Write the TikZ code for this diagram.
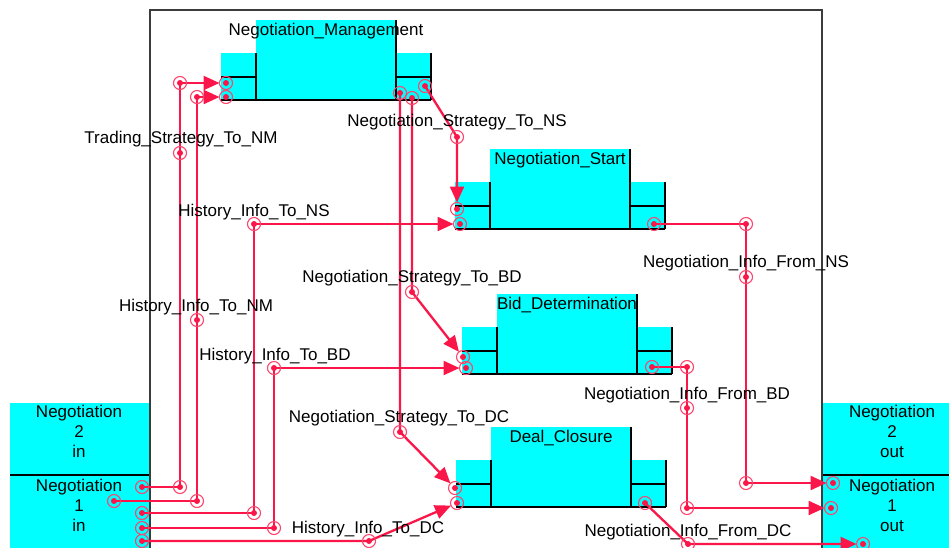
\documentclass[tikz,border=0pt]{standalone}
\usepackage{fontspec}
\setmainfont{Liberation Sans}
\usetikzlibrary{arrows.meta}
\definecolor{linkred}{RGB}{250,22,72}
\definecolor{compcyan}{RGB}{0,255,255}
\definecolor{framegray}{RGB}{60,60,60}
\pgfdeclarelayer{blocks}
\pgfdeclarelayer{wires}
\pgfsetlayers{blocks,wires,main}

% one component: name, x and y of the body's top-left corner, title
\newcommand\component[4]{%
  \node[body] (#1) at (#2+70,#3+40) {};
  \node[portup] (#1-li) at (#2-17.5,#3+45) {};
  \node[portlo] (#1-lo) at (#2-17.5,#3+68.5) {};
  \node[portup] (#1-ri) at (#2+157.5,#3+45) {};
  \node[portlo] (#1-ro) at (#2+157.5,#3+68.5) {};
  \draw[edge] (#1.north east) -- (#1.south east);
  \draw[edge] (#1-lo.south west) -- (#1-ro.south east);
  \draw[edge] (#1-li.north east) -- (#1-lo.south east);
  \draw[edge] (#1-lo.north west) -- (#1-lo.north east);
  \draw[edge] (#1-ri.north east) -- (#1-ro.south east);
  \draw[edge] (#1-ro.north west) -- (#1-ro.north east);
  \node[title] (#1-t) at (#2+70,#3+11) {#4};
}

\begin{document}
\begin{tikzpicture}[x=1pt,y=-1pt,
  every node/.style={font=\fontsize{17}{20}\selectfont, inner sep=0pt, outer sep=0pt},
  body/.style={fill=compcyan, minimum width=140pt, minimum height=80pt},
  portup/.style={fill=compcyan, minimum width=35pt, minimum height=24pt},
  portlo/.style={fill=compcyan, minimum width=35pt, minimum height=23pt},
  extbox/.style={fill=compcyan, minimum width=140pt},
  edge/.style={draw=black, line width=1.3pt},
  title/.style={text=black},
  wlabel/.style={text=black},
  boxtext/.style={align=center, text=black},
  jmark/.style={circle, draw=linkred!80, line width=1.1pt, minimum size=13pt,
    path picture={\fill[linkred] (path picture bounding box.center) circle (3pt);}},
  wire/.style={draw=linkred, line width=2.3pt, line join=round},
  arr/.style={wire, -{Triangle[length=16pt,width=14pt]}},
]
\useasboundingbox (0,0) rectangle (949,547);

\begin{pgfonlayer}{blocks}
  % external interface blocks
  \node[extbox, minimum height=72pt] (in2) at (80,439) {};
  \node[extbox, minimum height=85pt] (in1) at (80,517.5) {};
  \node[extbox, minimum height=72pt] (out2) at (892,439) {};
  \node[extbox, minimum height=85pt] (out1) at (892,517.5) {};
  \draw[edge] (in1.north west) -- (in1.north east);
  \draw[edge] (out1.north west) -- (out1.north east);
  % enclosing frame
  \node[draw=framegray, line width=1.3pt, minimum width=672pt, minimum height=550pt] (env) at (486,285) {};
  % components
  \component{nm}{256}{20}{Negotiation\_Management}
  \component{ns}{490}{149}{Negotiation\_Start}
  \component{bd}{497}{294}{Bid\_Determination}
  \component{dc}{491}{427}{Deal\_Closure}
\end{pgfonlayer}

% interface texts
\node[boxtext] (in2-t) at (79,431) {Negotiation\\2\\in};
\node[boxtext] (in1-t) at (79,505) {Negotiation\\1\\in};
\node[boxtext] (out2-t) at (892,431) {Negotiation\\2\\out};
\node[boxtext] (out1-t) at (892,505) {Negotiation\\1\\out};

% port and junction markers
\node[jmark] (i1) at (142,487) {};
\node[jmark] (i2) at (114,501) {};
\node[jmark] (i3) at (142,513) {};
\node[jmark] (i4) at (142,528) {};
\node[jmark] (i5) at (142,541) {};
\node[jmark] (a1) at (180,487) {};
\node[jmark] (a2) at (180,153) {};
\node[jmark] (a3) at (180,83) {};
\node[jmark] (b1) at (197,501) {};
\node[jmark] (b2) at (197,320) {};
\node[jmark] (b3) at (197,97) {};
\node[jmark] (c1) at (254,513) {};
\node[jmark] (c2) at (254,224) {};
\node[jmark] (d1) at (274,528) {};
\node[jmark] (d2) at (274,368) {};
\node[jmark] (e1) at (369,541) {};
\node[jmark] (nm1) at (226,83) {};
\node[jmark] (nm2) at (226,97) {};
\node[jmark] (nmo1) at (425,86) {};
\node[jmark] (nmo2) at (412,98) {};
\node[jmark] (nmo3) at (400,93) {};
\node[jmark] (f1) at (457,137) {};
\node[jmark] (g1) at (412,292) {};
\node[jmark] (h1) at (400,432) {};
\node[jmark] (ns1) at (457,209) {};
\node[jmark] (ns2) at (460,224) {};
\node[jmark] (nso) at (654,224) {};
\node[jmark] (bd1) at (463,357) {};
\node[jmark] (bd2) at (466,368) {};
\node[jmark] (bdo) at (652,367) {};
\node[jmark] (dc1) at (455,488) {};
\node[jmark] (dc2) at (457,503) {};
\node[jmark] (dco) at (645,503) {};
\node[jmark] (k1) at (746,224) {};
\node[jmark] (k2) at (746,277) {};
\node[jmark] (k3) at (746,483) {};
\node[jmark] (m1) at (687,367) {};
\node[jmark] (m2) at (687,408) {};
\node[jmark] (m3) at (687,508) {};
\node[jmark] (n1) at (688,544) {};
\node[jmark] (o1) at (833,483) {};
\node[jmark] (o2) at (831,508) {};
\node[jmark] (o3) at (863,544) {};

% connections
\begin{pgfonlayer}{wires}
  \draw[arr] (i1.center) -- (a1.center) -- (a2.center) -- (a3.center) -- (nm1);
  \draw[arr] (i2.center) -- (b1.center) -- (b2.center) -- (b3.center) -- (nm2);
  \draw[arr] (i3.center) -- (c1.center) -- (c2.center) -- (ns2);
  \draw[arr] (i4.center) -- (d1.center) -- (d2.center) -- (bd2);
  \draw[arr] (i5.center) -- (e1.center) -- (dc2);
  \draw[arr] (nmo1.center) -- (f1.center) -- (ns1);
  \draw[arr] (nmo2.center) -- (g1.center) -- (bd1);
  \draw[arr] (nmo3.center) -- (h1.center) -- (dc1);
  \draw[arr] (nso.center) -- (k1.center) -- (k2.center) -- (k3.center) -- (o1);
  \draw[arr] (bdo.center) -- (m1.center) -- (m2.center) -- (m3.center) -- (o2);
  \draw[arr] (dco.center) -- (n1.center) -- (o3);
\end{pgfonlayer}

% connection labels
\node[wlabel] (l-ts) at (181,139.5) {Trading\_Strategy\_To\_NM};
\node[wlabel] (l-hns) at (254,212.5) {History\_Info\_To\_NS};
\node[wlabel] (l-hnm) at (196,307.5) {History\_Info\_To\_NM};
\node[wlabel] (l-hbd) at (275,356.5) {History\_Info\_To\_BD};
\node[wlabel] (l-hdc) at (368,529.5) {History\_Info\_To\_DC};
\node[wlabel] (l-sns) at (457,122.5) {Negotiation\_Strategy\_To\_NS};
\node[wlabel] (l-sbd) at (412,278.5) {Negotiation\_Strategy\_To\_BD};
\node[wlabel] (l-sdc) at (399,418.5) {Negotiation\_Strategy\_To\_DC};
\node[wlabel] (l-ins) at (746,263.5) {Negotiation\_Info\_From\_NS};
\node[wlabel] (l-ibd) at (687,395.5) {Negotiation\_Info\_From\_BD};
\node[wlabel] (l-idc) at (688,532.5) {Negotiation\_Info\_From\_DC};
\end{tikzpicture}
\end{document}
